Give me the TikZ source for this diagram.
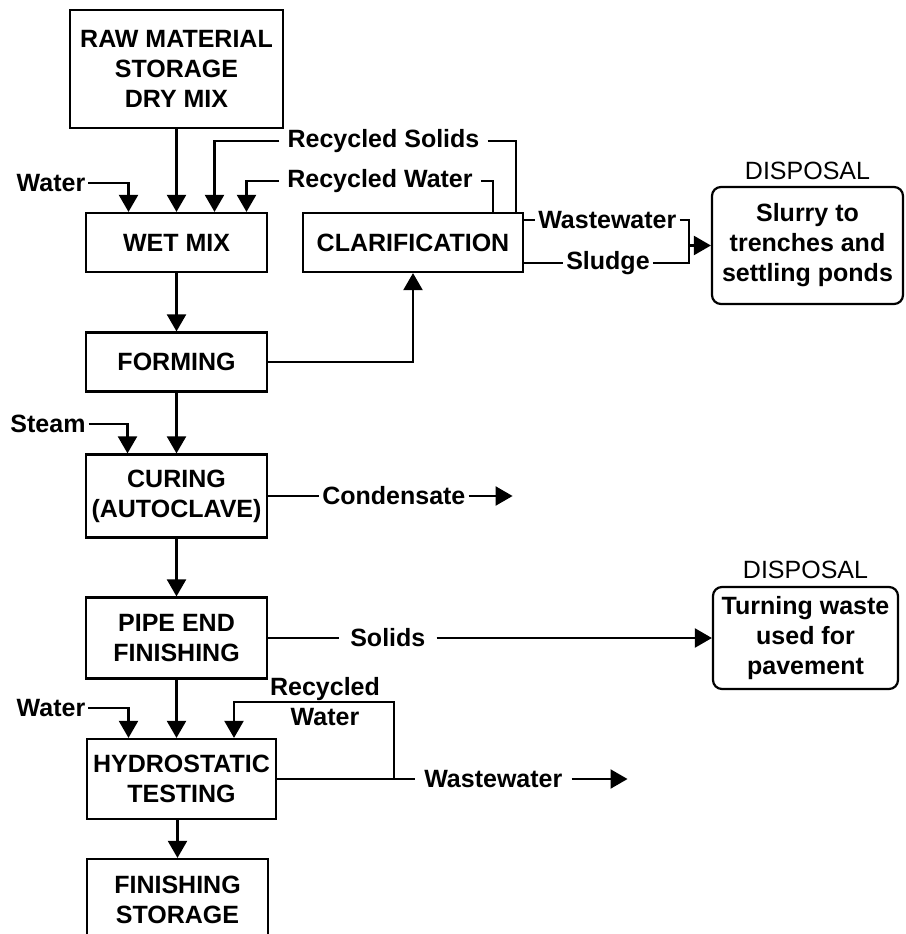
\documentclass[tikz,border=0pt]{standalone}
\usepackage{fontspec}
\setmainfont{Liberation Sans}
\usetikzlibrary{arrows.meta, positioning}

\begin{document}
\begin{tikzpicture}[
    x=1pt, y=-1pt,
    every node/.style={color=black, font=\bfseries\fontsize{25}{30}\selectfont},
    box/.style={draw, rectangle, line width=2.2pt, minimum width=181pt,
                minimum height=59pt, align=center, inner sep=2pt},
    dispbox/.style={draw, rectangle, rounded corners=9pt, line width=2.2pt,
                    align=center, inner sep=2pt},
    lbl/.style={inner xsep=3pt, inner ysep=2pt, align=center},
    displabel/.style={font=\fontsize{25}{30}\selectfont, inner sep=2pt},
    line/.style={line width=2.2pt},
    arrow/.style={-{Triangle[length=17pt, width=19pt]}, line width=2.2pt}
]
\useasboundingbox (0,0) rectangle (905,934);

% --- Process column ---
\node[box, minimum width=213pt, minimum height=118pt] (raw) at (176.5,69) {RAW MATERIAL\\STORAGE\\DRY MIX};
\node[box] (wet) at (176.5,242.5) {WET MIX};
\node[box, minimum width=220pt] (clar) at (413,242.5) {CLARIFICATION};
\node[box] (form) at (176.5,362) {FORMING};
\node[box, minimum height=83pt] (cure) at (176.5,496) {CURING\\(AUTOCLAVE)};
\node[box, minimum height=81pt] (pipe) at (176.5,638) {PIPE END\\FINISHING};
\node[box, minimum width=189pt, minimum height=80pt] (hydro) at (181.5,779) {HYDROSTATIC\\TESTING};
\node[box, minimum height=82pt] (store) at (177.5,900) {FINISHING\\STORAGE};

% --- Disposal boxes ---
\node[dispbox, minimum width=191pt, minimum height=117pt] (disp1) at (807.5,245.5) {Slurry to\\trenches and\\settling ponds};
\node[displabel, above=4pt of disp1] (disp1lbl) {DISPOSAL};
\node[dispbox, minimum width=185pt, minimum height=102pt] (disp2) at (805.5,638) {Turning waste\\used for\\pavement};
\node[displabel, above=5pt of disp2] (disp2lbl) {DISPOSAL};

% --- Stream labels ---
\node[lbl] (water1) at (51,183) {Water};
\node[lbl, inner xsep=8pt] (rsol) at (383.5,141) {Recycled Solids};
\node[lbl, inner xsep=8pt] (rwat) at (380,181) {Recycled Water};
\node[lbl, right=11pt of clar.north east, yshift=-8pt] (wwat) {Wastewater};
\node[lbl, right=39pt of clar.south east, yshift=10pt] (sludge) {Sludge};
\node[lbl] (steam) at (48,424) {Steam};
\node[lbl, right=51pt of cure] (cond) {Condensate};
\node[lbl, inner xsep=11pt, right=71pt of pipe] (solids) {Solids};
\node[lbl] (water2) at (51,708) {Water};
\node[lbl, inner ysep=0pt] (rwat2) at (325,702) {Recycled\\Water};
\node[lbl, inner xsep=9pt, right=138pt of hydro] (wwat2) {Wastewater};

% --- Helper coordinates ---
\coordinate (join1) at ([xshift=-22pt]disp1.west);
\coordinate (condEnd) at ([xshift=44pt]cond.east);
\coordinate (hwJoin) at ([xshift=117pt]hydro.east);
\coordinate (rwBend) at (234,702);
\coordinate (ww2End) at ([xshift=56pt]wwat2.east);

% --- Feeds into wet mix ---
\draw[arrow] (raw.south) -- (wet.north);
\draw[arrow] (water1.east) -| ([xshift=-48pt]wet.north);
\draw[arrow] (rsol.west) -| ([xshift=38pt]wet.north);
\draw[arrow] (rwat.west) -| ([xshift=70pt]wet.north);
\draw[line] (rsol.east) -| ([xshift=-8pt]clar.north east);
\draw[line] (rwat.east) -| ([xshift=-31pt]clar.north east);

% --- Clarification outputs ---
\draw[line] (clar.north east |- wwat.west) -- (wwat.west);
\draw[line] (wwat.east) -| (join1);
\draw[line] (clar.south east |- sludge.west) -- (sludge.west);
\draw[line] (sludge.east) -| (join1);
\draw[arrow] (join1) -- (disp1.west);

% --- Forming and curing ---
\draw[arrow] (wet.south) -- (form.north);
\draw[arrow] (form.east) -| (clar.south);
\draw[arrow] (form.south) -- (cure.north);
\draw[arrow] (steam.east) -| ([xshift=-49pt]cure.north);
\draw[line] (cure.east) -- (cond.west);
\draw[arrow] (cond.east) -- (condEnd);
\draw[arrow] (cure.south) -- (pipe.north);

% --- Pipe end finishing ---
\draw[line] (pipe.east) -- (solids.west);
\draw[arrow] (solids.east) -- (solids.east -| disp2.west);

% --- Hydrostatic testing ---
\draw[arrow] (pipe.south) -- (pipe.south |- hydro.north);
\draw[arrow] (water2.east) -| ([xshift=-53pt]hydro.north);
\draw[line] (hydro.east) -- (wwat2.west);
\draw[arrow] (wwat2.east) -- (ww2End);
\draw[arrow] (hwJoin) |- (rwBend) -- (rwBend |- hydro.north);
\draw[arrow] (hydro.south -| store.north) -- (store.north);

\end{tikzpicture}
\end{document}
